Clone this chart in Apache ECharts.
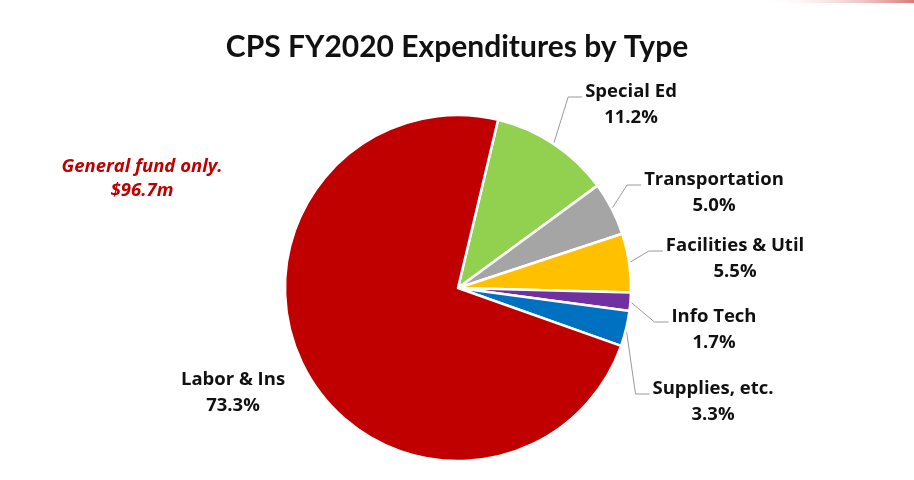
<!DOCTYPE html>
<html>
<head>
<meta charset="utf-8">
<script src="https://cdn.jsdelivr.net/npm/echarts@6/dist/echarts.min.js"></script>
<style>
    html, body { margin: 0; padding: 0; background: #fff; }
    #container { width: 914px; height: 480px; }
</style>
</head>
<body>
<div id="container"></div>
<script type="text/javascript">
    // data, clockwise from the Special Ed slice
    var categories = ['Special Ed', 'Transportation', 'Facilities & Util', 'Info Tech', 'Supplies, etc.', 'Labor & Ins'];
    var shares = [11.2, 5.0, 5.5, 1.7, 3.3, 73.3];
    var sliceColors = ['#92D050', '#A5A5A5', '#FFC000', '#7030A0', '#0070C0', '#C00000'];

    // where each label block sits (centre of the two text lines)
    var labelSpots = [[631, 105], [714, 193], [735, 259], [714, 330], [713, 402], [233, 393]];

    var dom = document.getElementById('container');
    var myChart = echarts.init(dom);
    var titleFont = 'Lato, "Open Sans", sans-serif';
    var labelFont = '"Open Sans", Lato, sans-serif';

    var pieData = categories.map(function (name, i) {
        return {
            name: name,
            value: shares[i],
            itemStyle: { color: sliceColors[i] },
            labelLine: { show: name !== 'Labor & Ins' }
        };
    });

    var option = {
        backgroundColor: '#fff',
        title: {
            text: 'CPS FY2020 Expenditures by Type',
            left: 'center',
            top: 27,
            textStyle: {
                fontFamily: titleFont,
                fontWeight: 'bold',
                fontSize: 30,
                color: '#111'
            }
        },
        graphic: [
            {
                type: 'rect',
                shape: { x: 760, y: 0, width: 154, height: 3 },
                style: {
                    fill: new echarts.graphic.LinearGradient(0, 0, 1, 0, [
                        { offset: 0, color: 'rgba(255,255,255,0)' },
                        { offset: 1, color: '#d97a7a' }
                    ])
                }
            },
            {
                type: 'text',
                x: 142,
                y: 155,
                style: {
                    text: 'General fund only.\n$96.7m',
                    align: 'center',
                    fill: '#C00000',
                    font: 'italic bold 18.5px ' + labelFont,
                    lineHeight: 24
                }
            }
        ],
        series: [
            {
                type: 'pie',
                center: [458, 288],
                radius: 173,
                startAngle: 76.6,
                clockwise: true,
                animation: false,
                itemStyle: {
                    borderColor: '#fff',
                    borderWidth: 2.5
                },
                label: {
                    show: true,
                    position: 'outside',
                    formatter: function (p) {
                        return p.name + '\n' + p.value.toFixed(1) + '%';
                    },
                    fontFamily: labelFont,
                    fontWeight: 'bold',
                    fontSize: 18.5,
                    lineHeight: 26,
                    color: '#111'
                },
                labelLine: {
                    show: true,
                    lineStyle: { color: '#9a9a9a', width: 1 }
                },
                labelLayout: function (params) {
                    var spot = labelSpots[params.dataIndex];
                    var w = params.labelRect.width;
                    var out = {
                        x: spot[0],
                        y: spot[1],
                        align: 'center',
                        verticalAlign: 'middle'
                    };
                    if (params.labelLinePoints) {
                        var start = params.labelLinePoints[0];
                        var endX = spot[0] - w / 2 - 3;
                        var lineY = spot[1] - 8;
                        out.labelLinePoints = [start, [endX - 14, lineY], [endX, lineY]];
                    }
                    return out;
                },
                data: pieData
            }
        ]
    };

    myChart.setOption(option, true);
</script>
</body>
</html>
